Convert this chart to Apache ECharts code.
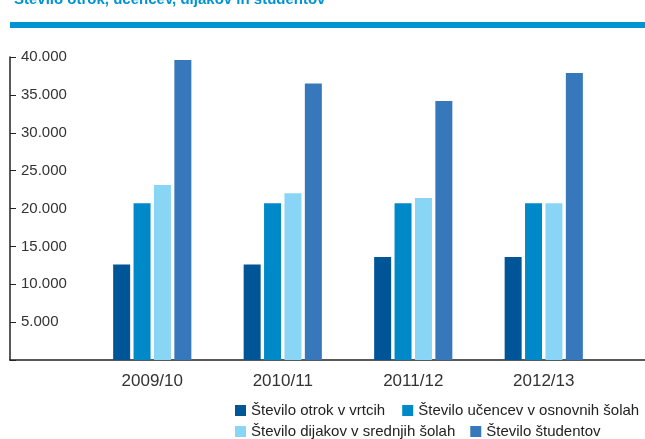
<!DOCTYPE html>
<html><head><meta charset="utf-8">
<script src="https://cdn.jsdelivr.net/npm/echarts@6/dist/echarts.min.js"></script>
<style>html,body{margin:0;padding:0;background:#fff}#c{width:645px;height:439px}</style>
</head><body><div id="c"></div>
<script>
const titleText = 'Število otrok, učencev, dijakov in študentov';
const categories = ['2009/10', '2010/11', '2011/12', '2012/13'];
const seriesNames = ['Število otrok v vrtcih', 'Število učencev v osnovnih šolah', 'Število dijakov v srednjih šolah', 'Število študentov'];
const vrtci = [12600, 12600, 13600, 13600];
const osnovne = [20700, 20700, 20700, 20700];
const srednje = [23100, 22000, 21400, 20700];
const studenti = [39600, 36500, 34200, 37900];
const yTicks = [0, 5000, 10000, 15000, 20000, 25000, 30000, 35000, 40000];
const colors = ['#005596', '#0089c9', '#89d5f5', '#3778bd'];
const values = [vrtci, osnovne, srednje, studenti];

const font = 'Liberation Sans, Arial, sans-serif';
const fmt = v => v === 0 ? '' : String(v).replace(/\B(?=(\d{3})+(?!\d))/g, '.');

const chart = echarts.init(document.getElementById('c'), null, {renderer: 'canvas'});
chart.setOption({
  animation: false,
  textStyle: {fontFamily: font},
  title: {text: titleText, left: 9, top: -13, textStyle: {color: '#0093d3', fontSize: 15, fontWeight: 'bold', fontFamily: font}},
  graphic: [{type: 'rect', shape: {x: 10, y: 22, width: 640, height: 6}, style: {fill: '#0093d3'}}],
  grid: [
    {left: 10, right: 0, top: 57, bottom: 79},
    {left: 87, width: 522, top: 57, bottom: 79}
  ],
  xAxis: [
    {gridIndex: 0, type: 'category', data: categories, axisLine: {lineStyle: {color: '#222', width: 1.5}}, axisTick: {show: false}, axisLabel: {show: false}},
    {gridIndex: 1, type: 'category', data: categories, axisLine: {show: false}, axisTick: {show: false},
     axisLabel: {color: '#333', fontSize: 17, margin: 13, fontFamily: font}}
  ],
  yAxis: [
    {gridIndex: 0, type: 'value', min: yTicks[0], max: yTicks[yTicks.length - 1], interval: 5000,
     axisLine: {show: true, lineStyle: {color: '#222', width: 1.5}},
     axisTick: {show: true, inside: true, length: 6, lineStyle: {color: '#222'}},
     axisLabel: {inside: true, margin: 11, color: '#333', fontSize: 15, fontFamily: font, formatter: fmt},
     splitLine: {show: false}},
    {gridIndex: 1, type: 'value', min: yTicks[0], max: yTicks[yTicks.length - 1], interval: 5000, show: false, splitLine: {show: false}}
  ],
  legend: [
    {data: seriesNames.slice(0, 2), left: 235, top: 403, itemWidth: 11, itemHeight: 11, itemGap: 17, icon: 'rect',
     textStyle: {color: '#222', fontSize: 15, fontFamily: font}, padding: 0},
    {data: seriesNames.slice(2, 4), left: 235, top: 424, itemWidth: 11, itemHeight: 11, itemGap: 15, icon: 'rect',
     textStyle: {color: '#222', fontSize: 15, fontFamily: font}, padding: 0}
  ],
  series: seriesNames.map((n, i) => ({
    name: n, type: 'bar', xAxisIndex: 1, yAxisIndex: 1, data: values[i],
    barWidth: 17, barGap: '20%', itemStyle: {color: colors[i]}
  }))
});
</script></body></html>
